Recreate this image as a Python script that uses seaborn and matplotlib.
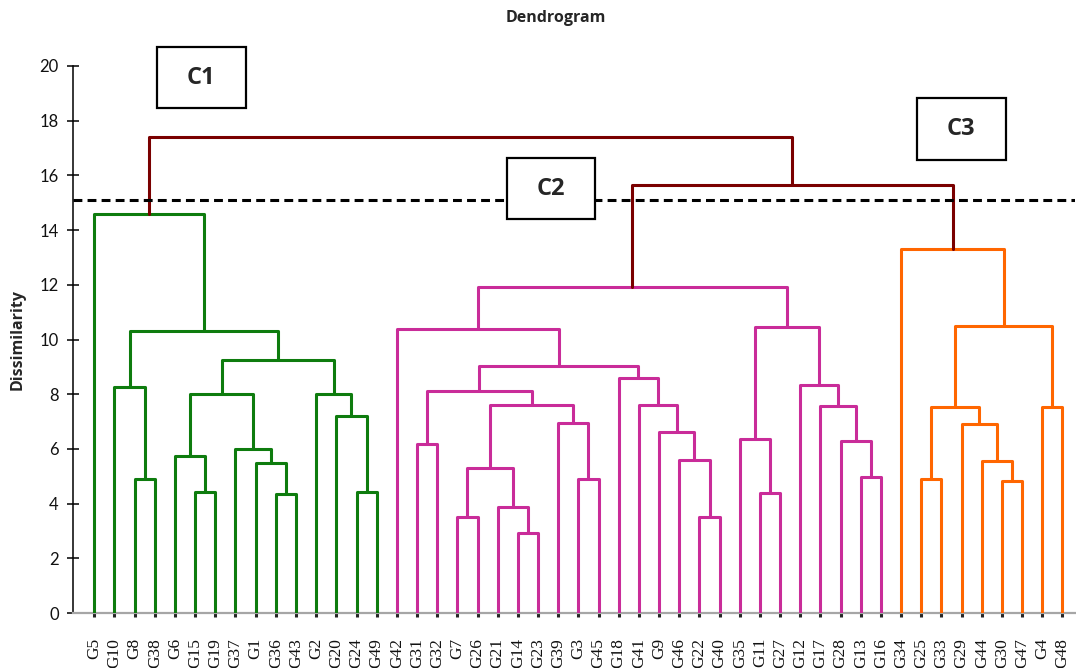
import matplotlib
matplotlib.use("Agg")
import matplotlib.pyplot as plt
from matplotlib.patches import Rectangle
import seaborn as sns
import pandas as pd

# Agglomerative tree, one nested (height, left, right) tuple per cluster
c1_tree = (14.58, "G5",
           (10.31,
            (8.28, "G10", (4.90, "G8", "G38")),
            (9.24,
             (8.00,
              (5.73, "G6", (4.42, "G15", "G19")),
              (5.98, "G37", (5.48, "G1", (4.36, "G36", "G43")))),
             (8.02, "G2", (7.20, "G20", (4.41, "G24", "G49"))))))

c2_tree = (11.91,
           (10.37, "G42",
            (9.04,
             (8.13, (6.18, "G31", "G32"),
              (7.62,
               (5.29, (3.50, "G7", "G26"), (3.86, "G21", (2.91, "G14", "G23"))),
               (6.94, "G39", (4.89, "G3", "G45")))),
             (8.58, "G18",
              (7.59, "G41", (6.61, "G9", (5.59, "G46", (3.50, "G22", "G40"))))))),
           (10.44,
            (6.36, "G35", (4.38, "G11", "G27")),
            (8.32, "G12", (7.56, "G17", (6.29, "G28", (4.96, "G13", "G16"))))))

c3_tree = (13.31, "G34",
           (10.49,
            (7.52, (4.89, "G25", "G33"),
             (6.90, "G29", (5.56, "G44", (4.83, "G30", "G47")))),
            (7.52, "G4", "G48")))

root_height = 17.41
c23_height = 15.64
cut_height = 15.10
cluster_names = ["C1", "C2", "C3"]
y_ticks = [0, 2, 4, 6, 8, 10, 12, 14, 16, 18, 20]

palette = {"C1": "#0E7C0E", "C2": "#C92C99", "C3": "#FF6600", "top": "#7A0000"}

full_tree = (root_height, c1_tree, (c23_height, c2_tree, c3_tree))


def leaf_names(node):
    if isinstance(node, str):
        return [node]
    return leaf_names(node[1]) + leaf_names(node[2])


leaf_cluster = {}
for name, tree in zip(cluster_names, [c1_tree, c2_tree, c3_tree]):
    for leaf in leaf_names(tree):
        leaf_cluster[leaf] = name

leaves = []
rows = []


def layout(node):
    """Place leaves left to right; return (x, height, a leaf below)."""
    if isinstance(node, str):
        leaves.append(node)
        return float(len(leaves) - 1), 0.0, node
    h, left, right = node
    xl, hl, leaf = layout(left)
    xr, hr, _ = layout(right)
    group = "top" if h > cut_height else leaf_cluster[leaf]
    seg = len(rows)
    for px, py in [(xl, hl), (xl, h), (xr, h), (xr, hr)]:
        rows.append({"x": px, "y": py, "seg": seg, "group": group})
    return (xl + xr) / 2, h, leaf


layout(full_tree)
links = pd.DataFrame(rows)

sns.set_theme(style="white")
plt.rcParams["font.family"] = ["Lato", "DejaVu Sans"]
bold_font = ["Open Sans", "DejaVu Sans"]

fig = plt.figure(figsize=(10.76, 6.68), dpi=100)
W, H = 1076, 668
ax = fig.add_axes([73 / W, 1 - 613 / H, (1075 - 73) / W, (613 - 66) / H])

sns.lineplot(data=links, x="x", y="y", units="seg", estimator=None, sort=False,
             hue="group", palette=palette, linewidth=2.2, legend=False, ax=ax,
             zorder=3)

ax.axhline(cut_height, color="black", lw=2.2, ls=(0, (2.9, 1.7)), zorder=4)

ax.set_xlim(-1.056, 48.62)
ax.set_ylim(0, 20)
ax.set_xlabel("")
ax.set_ylabel("")

ax.set_yticks(y_ticks)
ax.set_yticklabels([str(t) for t in y_ticks], fontsize=12, color="#111111")
ax.tick_params(axis="y", direction="inout", length=8.5, width=1.1, pad=6,
               color="black", left=True)

ax.set_xticks(range(len(leaves)))
ax.set_xticklabels(leaves, rotation=90, fontsize=12.5, family="Liberation Serif",
                   color="#111111")
ax.tick_params(axis="x", direction="out", length=3, width=2.2, pad=15,
               bottom=True)
for tick, leaf in zip(ax.xaxis.get_major_ticks(), leaves):
    tick.tick1line.set_color(palette[leaf_cluster[leaf]])

for side in ["top", "right"]:
    ax.spines[side].set_visible(False)
ax.spines["left"].set_color("black")
ax.spines["left"].set_linewidth(1.1)
ax.spines["bottom"].set_color("#A6A6A6")
ax.spines["bottom"].set_linewidth(1.6)
ax.grid(False)

# Cluster boxes (x in leaf units, y in dissimilarity)
boxes = {"C1": (3.11, 18.45, 4.40, 2.24),
         "C2": (20.45, 14.39, 4.39, 2.24),
         "C3": (40.77, 16.56, 4.43, 2.26)}
for name in cluster_names:
    bx, by, bw, bh = boxes[name]
    ax.add_patch(Rectangle((bx, by), bw, bh, facecolor="white",
                           edgecolor="black", lw=1.6, clip_on=False, zorder=6))
    ax.text(bx + bw / 2, by + bh / 2, name, ha="center", va="center",
            fontsize=17, fontweight="bold", family=bold_font, zorder=7,
            clip_on=False)

fig.text(556 / W, 1 - 18 / H, "Dendrogram", ha="center", va="center",
         fontsize=11.5, fontweight="bold", family=bold_font)
fig.text(18 / W, 1 - 340 / H, "Dissimilarity", ha="center", va="center",
         rotation=90, fontsize=11.5, fontweight="bold", family=bold_font)

fig.savefig("out.png", dpi=100)
